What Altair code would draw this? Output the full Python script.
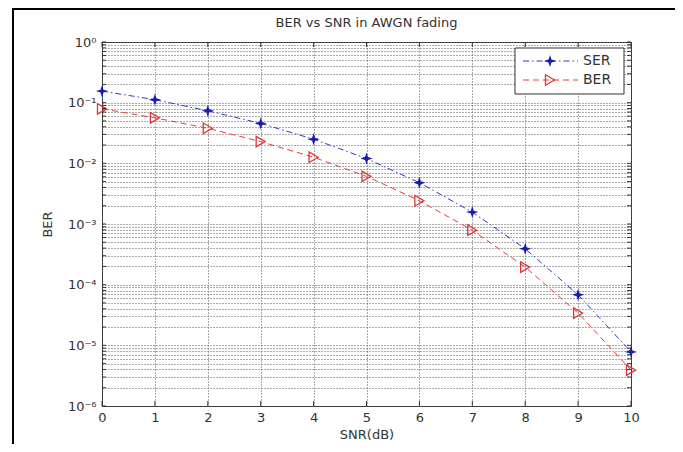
import json
import altair as alt
import pandas as pd

# ---- data ----
snr_db = [0, 1, 2, 3, 4, 5, 6, 7, 8, 9, 10]
ser_values = [0.155, 0.112, 0.0735, 0.0455, 0.0250, 0.0120, 0.00480, 0.00157, 0.00039, 6.8e-05, 7.8e-06]
ber_values = [0.079, 0.0562, 0.0378, 0.0228, 0.0126, 0.0061, 0.00242, 0.00079, 0.000195, 3.4e-05, 3.9e-06]
series_names = ["SER", "BER"]

x_ticks = [0, 1, 2, 3, 4, 5, 6, 7, 8, 9, 10]
y_decade_labels = ["10⁰", "10⁻¹", "10⁻²", "10⁻³", "10⁻⁴", "10⁻⁵", "10⁻⁶"]
y_grid_values = [k * 10.0 ** e for e in range(-6, 0) for k in range(1, 10)] + [1.0]

chart_title = "BER vs SNR in AWGN fading"
x_title = "SNR(dB)"
y_title = "BER"

# ---- styling ----
W, H = 529, 364
FONT = "DejaVu Sans"
TXT = "#333333"
SER_LINE, SER_MARK = "#3434d0", "#1a1ab8"
BER_LINE, BER_MARK = "#ec3a3a", "#e03535"
STAR = "M0,-1L0.24,-0.24L1,0L0.24,0.24L0,1L-0.24,0.24L-1,0L-0.24,-0.24Z"

df = pd.DataFrame({"snr": snr_db, "ser": ser_values, "ber": ber_values})
xt_df = pd.DataFrame({"xt": x_ticks})
yt_df = pd.DataFrame({"yt": y_grid_values})

lab_arr = json.dumps(y_decade_labels, ensure_ascii=False)
lg = "(log(datum.value)/LN10)"
label_expr = f"abs({lg} - round({lg})) < 0.001 ? {lab_arr}[-round({lg})] : ''"

x_scale = alt.Scale(domain=[0, 10], nice=False, zero=False)
x_enc = alt.X(
    "snr:Q",
    scale=x_scale,
    axis=alt.Axis(values=x_ticks, title=x_title, labelFlush=False, labelPadding=5,
                  titlePadding=4, format="d"),
)
y_scale = alt.Scale(type="log", domain=[1e-6, 1], nice=False)
y_axis = alt.Axis(values=y_grid_values, labelExpr=label_expr, title=y_title,
                  labelOverlap=False, labelPadding=6, titlePadding=13)

base = alt.Chart(df)

ser_line = base.mark_line(color=SER_LINE, strokeWidth=1, strokeDash=[6, 3, 1.5, 3]).encode(
    x=x_enc, y=alt.Y("ser:Q", scale=y_scale, axis=y_axis)
)
ber_line = base.mark_line(color=BER_LINE, strokeWidth=1, strokeDash=[6, 4]).encode(
    x="snr:Q", y=alt.Y("ber:Q", scale=y_scale)
)
ser_pts = base.mark_point(shape=STAR, filled=True, size=150, color=SER_MARK, opacity=1).encode(
    x="snr:Q", y=alt.Y("ser:Q", scale=y_scale)
)
ber_pts = base.mark_point(shape="triangle-right", filled=False, size=110, color=BER_MARK,
                          strokeWidth=1.3, opacity=1).encode(
    x="snr:Q", y=alt.Y("ber:Q", scale=y_scale)
)

# ---- inward MATLAB-style ticks ----
TK = "#333333"
xt_bottom = alt.Chart(xt_df).mark_rule(color=TK, strokeWidth=1).encode(
    x=alt.X("xt:Q", scale=x_scale), y=alt.value(H), y2=alt.value(H - 5)
)
xt_top = alt.Chart(xt_df).mark_rule(color=TK, strokeWidth=1).encode(
    x=alt.X("xt:Q", scale=x_scale), y=alt.value(0), y2=alt.value(5)
)
yt_left = alt.Chart(yt_df).mark_rule(color=TK, strokeWidth=1).encode(
    y=alt.Y("yt:Q", scale=y_scale), x=alt.value(0), x2=alt.value(4)
)
yt_right = alt.Chart(yt_df).mark_rule(color=TK, strokeWidth=1).encode(
    y=alt.Y("yt:Q", scale=y_scale), x=alt.value(W - 4), x2=alt.value(W)
)

# ---- manual MATLAB-style legend ----
one = pd.DataFrame({"k": [0]})
ser_lab = pd.DataFrame({"label": [series_names[0]]})
ber_lab = pd.DataFrame({"label": [series_names[1]]})
title_df = pd.DataFrame({"t": [chart_title]})

leg_box = alt.Chart(one).mark_rect(fill="white", stroke="#333333", strokeWidth=1).encode(
    x=alt.value(413), x2=alt.value(522), y=alt.value(6), y2=alt.value(52)
)
leg_ser_line = alt.Chart(one).mark_rule(color=SER_LINE, strokeWidth=1, strokeDash=[6, 3, 1.5, 3]).encode(
    x=alt.value(421), x2=alt.value(476), y=alt.value(19)
)
leg_ser_pt = alt.Chart(one).mark_point(shape=STAR, filled=True, size=150, color=SER_MARK, opacity=1).encode(
    x=alt.value(448), y=alt.value(19)
)
leg_ser_txt = alt.Chart(ser_lab).mark_text(align="left", baseline="middle", font=FONT, fontSize=14,
                                           color=TXT).encode(
    x=alt.value(481), y=alt.value(19), text="label:N"
)
leg_ber_line = alt.Chart(one).mark_rule(color=BER_LINE, strokeWidth=1, strokeDash=[6, 4]).encode(
    x=alt.value(421), x2=alt.value(476), y=alt.value(38)
)
leg_ber_pt = alt.Chart(one).mark_point(shape="triangle-right", filled=False, size=110, color=BER_MARK,
                                       strokeWidth=1.3, opacity=1).encode(
    x=alt.value(448), y=alt.value(38)
)
leg_ber_txt = alt.Chart(ber_lab).mark_text(align="left", baseline="middle", font=FONT, fontSize=14,
                                           color=TXT).encode(
    x=alt.value(481), y=alt.value(38), text="label:N"
)

# ---- chart title as text (so the outer frame does not push it away) ----
title_txt = alt.Chart(title_df).mark_text(align="center", baseline="middle", font=FONT, fontSize=13,
                                          color=TXT).encode(
    x=alt.value(W / 2), y=alt.value(-19), text="t:N"
)

# ---- outer figure frame (left and top edges visible in the reference) ----
frame_left = alt.Chart(one).mark_rect(color="black").encode(
    x=alt.value(-90), x2=alt.value(-88), y=alt.value(-34), y2=alt.value(H + 40)
)
frame_top = alt.Chart(one).mark_rect(color="black").encode(
    x=alt.value(-90), x2=alt.value(W + 44), y=alt.value(-34), y2=alt.value(-32)
)

chart = alt.layer(
    ser_line, ber_line, ser_pts, ber_pts,
    xt_bottom, xt_top, yt_left, yt_right,
    leg_box, leg_ser_line, leg_ser_pt, leg_ser_txt, leg_ber_line, leg_ber_pt, leg_ber_txt,
    title_txt, frame_left, frame_top,
).properties(
    width=W,
    height=H,
    background="white",
    autosize=alt.AutoSizeParams(type="none"),
    padding={"left": 94, "top": 34, "right": 44, "bottom": 38},
).configure_view(
    stroke="#333333", strokeWidth=1
).configure_axis(
    domain=False, ticks=False, grid=True, gridColor="#555555", gridDash=[1, 2], gridWidth=1,
    labelFont=FONT, labelFontSize=13, labelColor=TXT,
    titleFont=FONT, titleFontSize=13, titleFontWeight="normal", titleColor=TXT,
)

chart.save("out.html", embed_options={"renderer": "svg", "actions": False})
